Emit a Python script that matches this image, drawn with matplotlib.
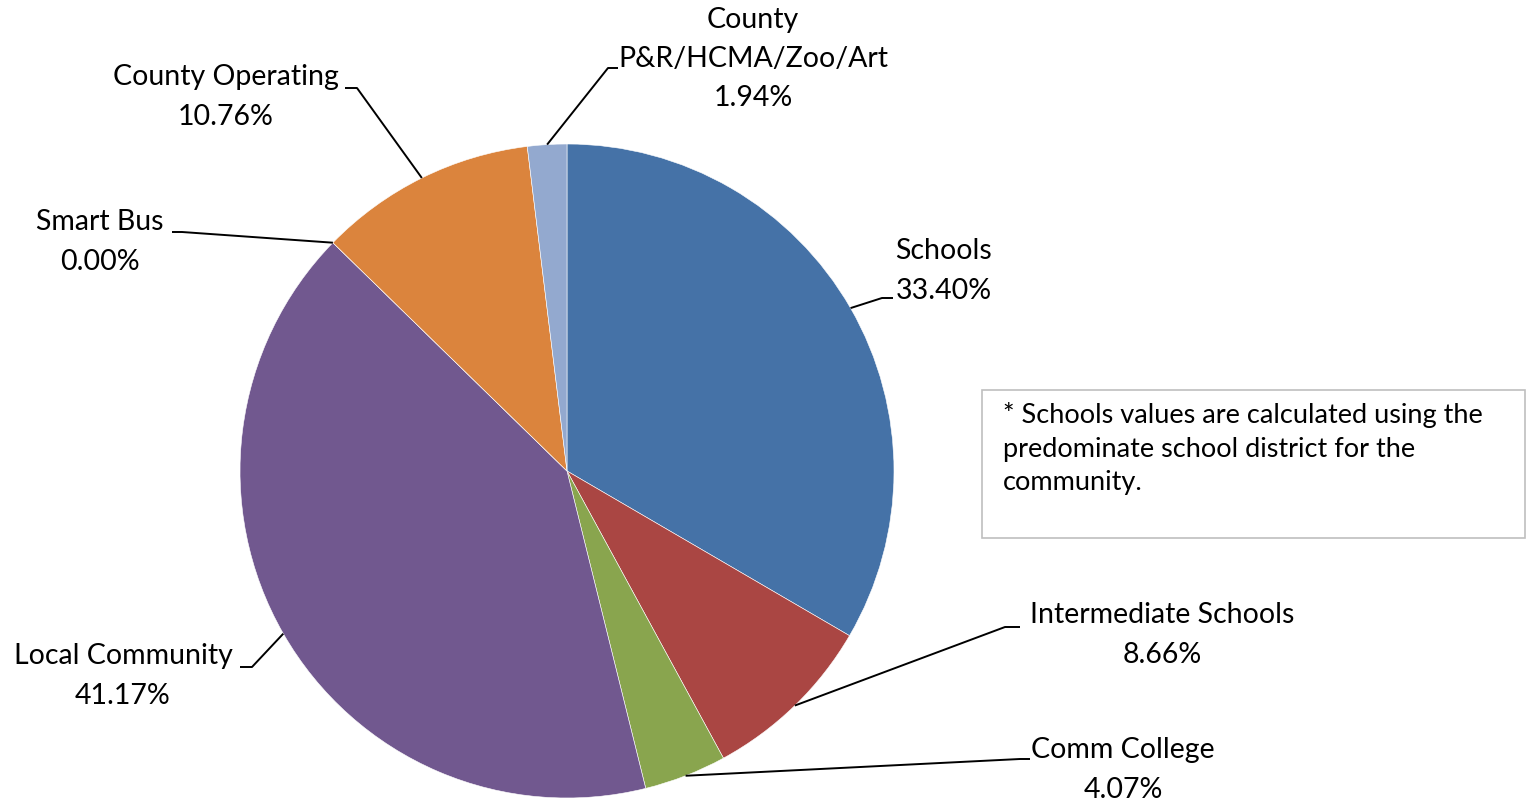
import matplotlib.pyplot as plt
from matplotlib.patches import Rectangle
import numpy as np

plt.rcParams['font.family'] = ['Lato', 'DejaVu Sans']

categories = ["Schools", "Intermediate Schools", "Comm College", "Local Community",
              "Smart Bus", "County Operating", "County\nP&R/HCMA/Zoo/Art"]
values = [33.40, 8.66, 4.07, 41.17, 0.00, 10.76, 1.94]
colors = ["#4572A7", "#AA4643", "#89A54E", "#71588F", "#4198AF", "#DB843D", "#93A9CF"]

note = "* Schools values are calculated using the\npredominate school district for the\ncommunity."

W, H = 1527, 809
CX, CY, R = 567, 471, 327


def px(x, y):
    # pixel position (top-left origin) -> data units (pie radius 1)
    return (x - CX) / R, (CY - y) / R


# label layout: text centre, elbow point, end of horizontal stub (pixels)
layout = [
    ((944, 271), (882, 298), (893, 298)),
    ((1162, 635), (1005, 627), (1020, 627)),
    ((1123, 770), (1020, 759), (1030, 759)),
    ((123, 676), (252, 667), (240, 667)),
    ((100, 242), (182, 232), (172, 232)),
    ((226, 97), (357, 88), (345, 88)),
    ((753, 59), (608, 68), (618, 68)),
]

fig = plt.figure(figsize=(W / 100, H / 100), dpi=100)
ax = fig.add_axes([0, 0, 1, 1])

wedges, _ = ax.pie(values, colors=colors, startangle=90, counterclock=False,
                   radius=1, center=(0, 0), frame=True,
                   wedgeprops=dict(edgecolor='white', linewidth=0.4))
ax.set_xlim(px(0, 0)[0], px(W, 0)[0])
ax.set_ylim(px(0, H)[1], px(0, 0)[1])
ax.axis('off')

for w, cat, v, (tc, elbow, stub) in zip(wedges, categories, values, layout):
    mid = np.deg2rad((w.theta1 + w.theta2) / 2)
    x0, y0 = np.cos(mid), np.sin(mid)
    ex, ey = px(*elbow)
    sx, sy = px(*stub)
    ax.plot([x0, ex, sx], [y0, ey, sy], color='black', lw=1.4, solid_capstyle='butt')
    tx, ty = px(*tc)
    ax.text(tx, ty, f"{cat}\n{v:.2f}%", ha='center', va='center',
            multialignment='center', fontsize=20.5, linespacing=1.63, color='black')

bx0, by0 = px(982, 538)
bx1, by1 = px(1525, 390)
ax.add_patch(Rectangle((bx0, by0), bx1 - bx0, by1 - by0, fill=False,
                       edgecolor='#BFBFBF', lw=1.2))
nx, ny = px(1003, 402)
ax.text(nx, ny, note, ha='left', va='top', fontsize=19.5, linespacing=1.43)

fig.savefig("out.png", dpi=100)
